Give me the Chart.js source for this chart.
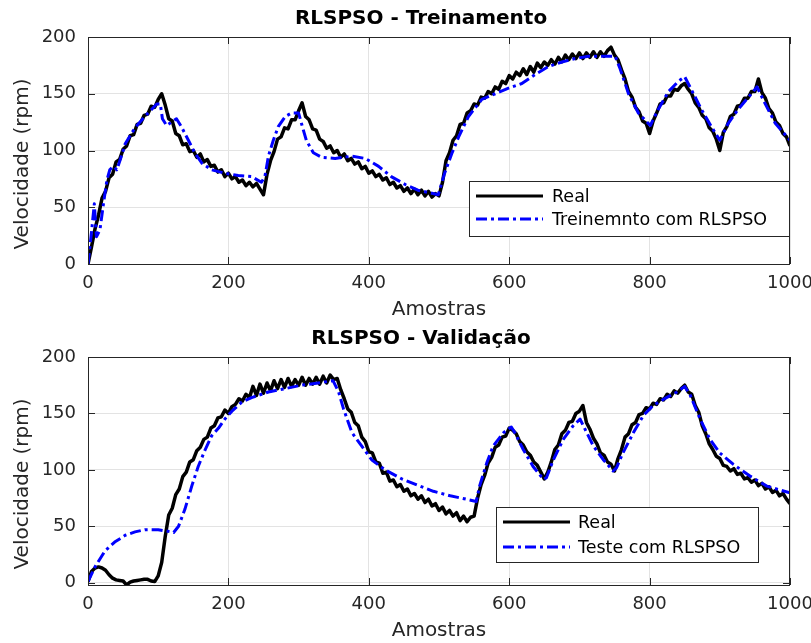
<!DOCTYPE html>
<html>
<head>
<meta charset="utf-8">
<title>RLSPSO</title>
<script src="https://cdn.jsdelivr.net/npm/chart.js@4.4.1/dist/chart.umd.min.js"></script>
<style>
  html, body { margin: 0; padding: 0; background: #fff; }
  #wrap { position: relative; width: 811px; height: 643px; }
  canvas { position: absolute; left: 0; }
  #trainChart { top: 0; }
  #testChart { top: 322px; }
</style>
</head>
<body>
<div id="wrap">
  <canvas id="trainChart" width="811" height="322"></canvas>
  <canvas id="testChart" width="811" height="321"></canvas>
</div>
<script>
// measured speed, one value every SAMPLE_STEP samples
const SAMPLE_STEP = 5;

const xTicks = [0, 200, 400, 600, 800, 1000];
const yTicks = [0, 50, 100, 150, 200];

// training run
const trainReal = [
  0, 15, 31, 43, 58, 64, 76, 79, 90, 92, 101, 104, 113, 114, 123, 124, 131, 132, 139, 138,
  145, 150, 140, 128, 126, 115, 113, 105, 106, 99, 100, 94, 97, 90, 92, 86, 87, 81, 83, 77,
  80, 75, 77, 72, 74, 69, 72, 68, 71, 66, 61, 79, 91, 99, 110, 112, 120, 119, 127, 127,
  135, 142, 130, 127, 119, 118, 110, 108, 102, 104, 98, 100, 94, 97, 91, 93, 88, 90, 84, 86,
  80, 82, 77, 79, 74, 76, 70, 72, 67, 69, 64, 67, 62, 66, 61, 65, 60, 64, 59, 62,
  60, 72, 91, 98, 109, 113, 123, 124, 133, 135, 141, 140, 147, 146, 152, 150, 156, 154, 161, 159,
  166, 163, 169, 166, 172, 167, 174, 169, 177, 173, 178, 175, 180, 176, 182, 178, 184, 180, 185, 181,
  186, 181, 186, 182, 187, 182, 187, 183, 188, 191, 184, 180, 171, 163, 152, 147, 138, 134, 126, 124,
  115, 126, 133, 141, 142, 148, 148, 154, 153, 157, 159, 154, 150, 142, 138, 131, 128, 120, 117, 110,
  100, 116, 121, 130, 132, 139, 140, 146, 146, 152, 152, 163, 151, 146, 137, 133, 125, 122, 115, 112,
  104
];
const trainModelX = [
  0, 5, 9, 12, 17, 22, 27, 31, 36, 41, 46, 53, 67, 81, 98, 103, 106, 112, 119, 126,
  133, 143, 152, 162, 176, 195, 214, 233, 247, 252, 257, 264, 271, 281, 290, 300, 304, 311, 321, 333,
  352, 376, 395, 414, 432, 452, 470, 485, 499, 508, 518, 528, 542, 561, 580, 599, 618, 637, 656, 675,
  694, 713, 732, 751, 758, 770, 784, 801, 812, 827, 841, 850, 860, 874, 888, 900, 912, 927, 941, 953,
  964, 979, 1000
];
const trainModelY = [
  0, 28, 53, 24, 30, 53, 74, 83, 86, 83, 92, 106, 120, 130, 141, 141, 128, 122, 125, 128,
  121, 109, 98, 89, 83, 80, 78, 77, 72, 77, 95, 109, 121, 130, 133, 133, 124, 109, 98, 94,
  93, 95, 93, 86, 77, 70, 65, 63, 61, 80, 97, 112, 130, 145, 150, 155, 159, 167, 174, 178,
  181, 183, 183, 183, 172, 150, 133, 122, 136, 152, 161, 165, 153, 136, 121, 109, 124, 137, 147, 156,
  142, 124, 109
];

// validation run
const testReal = [
  1, 10, 13, 14, 13, 11, 7, 4, 2.5, 2, 1.5, -2, 0.5, 1.5, 2, 2.5, 3, 3, 1.5, 1,
  6, 18, 41, 60, 66, 78, 83, 94, 98, 107, 109, 117, 120, 127, 129, 137, 139, 146, 147, 153,
  150, 156, 158, 163, 161, 167, 164, 174, 166, 176, 168, 177, 170, 179, 172, 180, 173, 181, 174, 180,
  175, 182, 175, 181, 176, 182, 176, 183, 177, 184, 180, 181, 171, 163, 154, 151, 142, 139, 129, 125,
  116, 115, 107, 106, 97, 98, 90, 91, 85, 87, 81, 83, 77, 79, 74, 77, 71, 74, 68, 70,
  64, 67, 61, 64, 59, 62, 55, 59, 54, 58, 59, 75, 87, 95, 106, 111, 120, 122, 129, 130,
  137, 135, 132, 125, 122, 116, 113, 107, 104, 98, 92, 98, 107, 118, 122, 132, 135, 142, 143, 150,
  152, 157, 142, 136, 128, 123, 115, 113, 107, 105, 99, 110, 118, 129, 132, 140, 142, 149, 150, 155,
  154, 159, 158, 163, 162, 167, 165, 170, 168, 172, 175, 169, 167, 157, 151, 139, 132, 123, 118, 112,
  110, 104, 103, 99, 101, 96, 97, 92, 93, 89, 91, 86, 88, 83, 85, 80, 82, 77, 79, 74,
  70
];
const testModelX = [
  0, 10, 24, 38, 53, 67, 81, 100, 114, 122, 129, 138, 148, 157, 167, 176, 186, 195, 205, 219,
  233, 257, 281, 304, 328, 349, 357, 364, 376, 390, 404, 423, 447, 471, 492, 516, 539, 553, 558, 568,
  577, 592, 603, 608, 620, 634, 649, 653, 663, 677, 691, 701, 708, 720, 734, 748, 753, 762, 777, 791,
  805, 824, 839, 850, 858, 872, 886, 900, 919, 943, 967, 1000
];
const testModelY = [
  1, 14, 28, 36, 42, 45, 47, 47, 45.5, 44.5, 50, 65, 86, 103, 118, 130, 137, 145, 152, 160,
  164, 169, 172, 175, 177, 179, 169, 154, 133, 121, 109, 100, 92, 86, 81, 77, 74, 72, 86, 106,
  121, 133, 138, 133, 118, 103, 91.5, 93, 109, 127, 139, 145, 136, 121, 109, 99, 102, 115, 133, 148,
  157, 164, 169, 174, 166, 145, 127, 115, 105, 94.5, 85.6, 79.6
];

const AXIS_COLOR = '#262626';
const GRID_COLOR = '#e3e3e3';
const MODEL_DASH = [11, 4, 3, 4];

Chart.defaults.font.family = '"DejaVu Sans", sans-serif';
Chart.defaults.color = AXIS_COLOR;

// box round the axes, inward ticks, legend, title and y label
const axesFrame = {
  id: 'axesFrame',
  afterDraw(chart, args, opts) {
    const { ctx, chartArea: a, scales: { x, y } } = chart;
    ctx.save();
    ctx.strokeStyle = AXIS_COLOR;
    ctx.lineWidth = 1;
    ctx.beginPath();
    xTicks.forEach(v => {
      const px = Math.round(x.getPixelForValue(v)) + 0.5;
      ctx.moveTo(px, a.bottom); ctx.lineTo(px, a.bottom - 7);
      ctx.moveTo(px, a.top); ctx.lineTo(px, a.top + 7);
    });
    yTicks.forEach(v => {
      const py = Math.round(y.getPixelForValue(v)) + 0.5;
      ctx.moveTo(a.left, py); ctx.lineTo(a.left + 7, py);
      ctx.moveTo(a.right, py); ctx.lineTo(a.right - 7, py);
    });
    ctx.stroke();
    ctx.strokeRect(Math.round(a.left) + 0.5, Math.round(a.top) + 0.5,
                   Math.round(a.width) - 1, Math.round(a.height));

    // legend
    const lg = opts.legend;
    ctx.fillStyle = '#fff';
    ctx.fillRect(lg.x, lg.y, lg.w, lg.h);
    ctx.strokeStyle = AXIS_COLOR;
    ctx.strokeRect(lg.x + 0.5, lg.y + 0.5, lg.w, lg.h);
    ctx.font = '17.5px "DejaVu Sans"';
    ctx.textAlign = 'left';
    ctx.textBaseline = 'middle';
    chart.data.datasets.forEach((ds, i) => {
      const ry = lg.y + lg.rows[i];
      ctx.strokeStyle = ds.borderColor;
      ctx.lineWidth = 3;
      ctx.setLineDash(ds.borderDash || []);
      ctx.beginPath();
      ctx.moveTo(lg.x + 7, ry);
      ctx.lineTo(lg.x + 7 + lg.lineLen, ry);
      ctx.stroke();
      ctx.setLineDash([]);
      ctx.fillStyle = '#000';
      ctx.fillText(ds.label, lg.x + lg.textX, ry + 1);
    });

    // title
    ctx.fillStyle = '#000';
    ctx.font = 'bold 20px "DejaVu Sans"';
    ctx.textAlign = 'center';
    ctx.fillText(opts.title, 421, a.top - 18.5);

    // y axis label
    ctx.fillStyle = AXIS_COLOR;
    ctx.font = '20px "DejaVu Sans"';
    ctx.translate(23, a.top + 127);
    ctx.rotate(-Math.PI / 2);
    ctx.fillText('Velocidade (rpm)', 0, 0);
    ctx.restore();
  }
};

function makeOptions(yMin, padTop, frame) {
  return {
    responsive: false,
    animation: false,
    events: [],
    layout: { padding: { top: padTop, left: 0, right: 21, bottom: 0 } },
    elements: { point: { radius: 0 }, line: { tension: 0, borderJoinStyle: 'round' } },
    scales: {
      x: {
        type: 'linear',
        min: 0,
        max: 1000,
        afterBuildTicks: s => { s.ticks = xTicks.map(v => ({ value: v })); },
        afterFit: s => { s.height = 58; s.paddingLeft = 0; s.paddingRight = 0; },
        ticks: { color: AXIS_COLOR, font: { size: 18 }, padding: 9, maxRotation: 0, autoSkip: false,
                 callback: v => String(v) },
        grid: { color: GRID_COLOR, drawTicks: false },
        border: { display: false },
        title: { display: true, text: 'Amostras', color: AXIS_COLOR, font: { size: 20 }, padding: { top: 0, bottom: 0 } }
      },
      y: {
        min: yMin,
        max: 200,
        afterBuildTicks: s => { s.ticks = yTicks.map(v => ({ value: v })); },
        afterFit: s => { s.width = 88; },
        ticks: { color: AXIS_COLOR, font: { size: 18 }, padding: 12, callback: v => String(v) },
        grid: { color: GRID_COLOR, drawTicks: false },
        border: { display: false }
      }
    },
    plugins: {
      legend: { display: false },
      tooltip: { enabled: false },
      axesFrame: frame
    }
  };
}

function realSeries(values) {
  return values.map((v, i) => ({ x: i * SAMPLE_STEP, y: v }));
}

function pairSeries(xs, ys) {
  return xs.map((x, i) => ({ x: x, y: ys[i] }));
}

new Chart(document.getElementById('trainChart'), {
  type: 'line',
  data: {
    datasets: [
      { label: 'Real', data: realSeries(trainReal), borderColor: '#000000', borderWidth: 3.5, clip: 0, order: 1 },
      { label: 'Treinemnto com RLSPSO', data: pairSeries(trainModelX, trainModelY), borderColor: '#0000ff',
        borderWidth: 3, borderDash: MODEL_DASH, clip: 0, order: 0 }
    ]
  },
  options: makeOptions(0, 37, {
    title: 'RLSPSO - Treinamento',
    legend: { x: 469, y: 181, w: 320, h: 55, rows: [15, 38], lineLen: 67, textX: 83 }
  }),
  plugins: [axesFrame]
});

new Chart(document.getElementById('testChart'), {
  type: 'line',
  data: {
    datasets: [
      { label: 'Real', data: realSeries(testReal), borderColor: '#000000', borderWidth: 3.5, clip: 0, order: 1 },
      { label: 'Teste com RLSPSO', data: pairSeries(testModelX, testModelY), borderColor: '#0000ff',
        borderWidth: 3, borderDash: MODEL_DASH, clip: 0, order: 0 }
    ]
  },
  options: makeOptions(-2.05, 35, {
    title: 'RLSPSO - Validação',
    legend: { x: 496, y: 185, w: 262, h: 55, rows: [15, 40], lineLen: 67, textX: 82 }
  }),
  plugins: [axesFrame]
});
</script>
</body>
</html>
